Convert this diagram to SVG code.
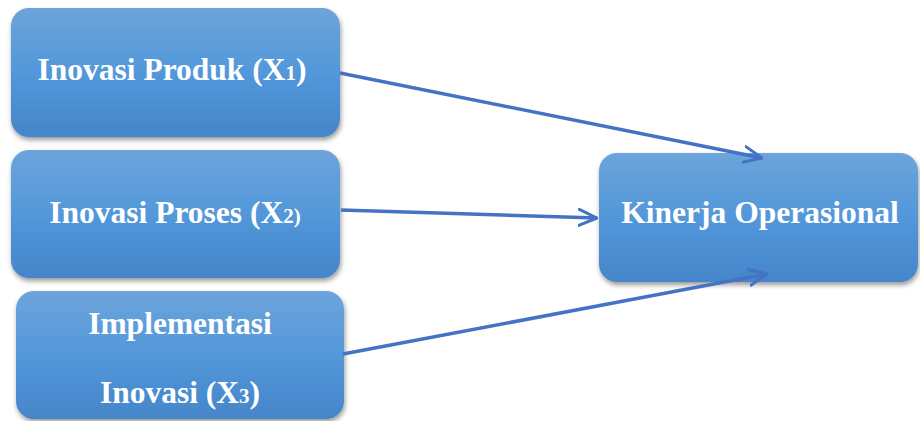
<svg xmlns="http://www.w3.org/2000/svg" width="920" height="421" viewBox="0 0 920 421">
<defs>
<linearGradient id="g" x1="0" y1="0" x2="0" y2="1">
<stop offset="0" stop-color="#6DA4DB"/>
<stop offset="0.5" stop-color="#5298DA"/>
<stop offset="1" stop-color="#4585C9"/>
</linearGradient>
<filter id="sh" x="-10%" y="-10%" width="120%" height="130%">
<feDropShadow dx="1" dy="3" stdDeviation="2.5" flood-color="#000" flood-opacity="0.4"/>
</filter>
<marker id="ah" markerUnits="userSpaceOnUse" viewBox="0 0 20 20" markerWidth="20" markerHeight="20" refX="19" refY="10" orient="auto">
<path d="M1,2 L19,10 L1,18" fill="none" stroke="#4472C4" stroke-width="3" stroke-linecap="round" stroke-linejoin="round"/>
</marker>
</defs>
<style>
.box{fill:url(#g);filter:url(#sh)}
.t{font-family:"Liberation Serif","Times New Roman",serif;font-weight:bold;font-size:31.5px;fill:#fff;text-anchor:middle}
.s{font-size:21px}
.c{stroke:#4472C4;stroke-width:3.5;fill:none;marker-end:url(#ah)}
</style>
<rect width="920" height="421" fill="#fff"/>
<g id="node-x1">
<rect class="box" x="11" y="8" width="329" height="129" rx="18"/>
<text class="t" x="172" y="80">Inovasi Produk (X<tspan class="s">1</tspan>)</text>
</g>
<g id="node-x2">
<rect class="box" x="11" y="150" width="329" height="128" rx="18"/>
<text class="t" x="175" y="223">Inovasi Proses (X<tspan class="s">2)</tspan></text>
</g>
<g id="node-x3">
<rect class="box" x="16" y="291" width="328" height="128" rx="18"/>
<text class="t" x="180" y="334">Implementasi</text>
<text class="t" x="180" y="403">Inovasi (X<tspan class="s">3</tspan>)</text>
</g>
<g id="node-y">
<rect class="box" x="599" y="153" width="319" height="129" rx="18"/>
<text class="t" x="760" y="223">Kinerja Operasional</text>
</g>
<g id="connectors">
<line class="c" x1="340" y1="73" x2="762" y2="158"/>
<line class="c" x1="341" y1="210" x2="597" y2="218"/>
<line class="c" x1="343" y1="354" x2="767" y2="274"/>
</g>
</svg>
